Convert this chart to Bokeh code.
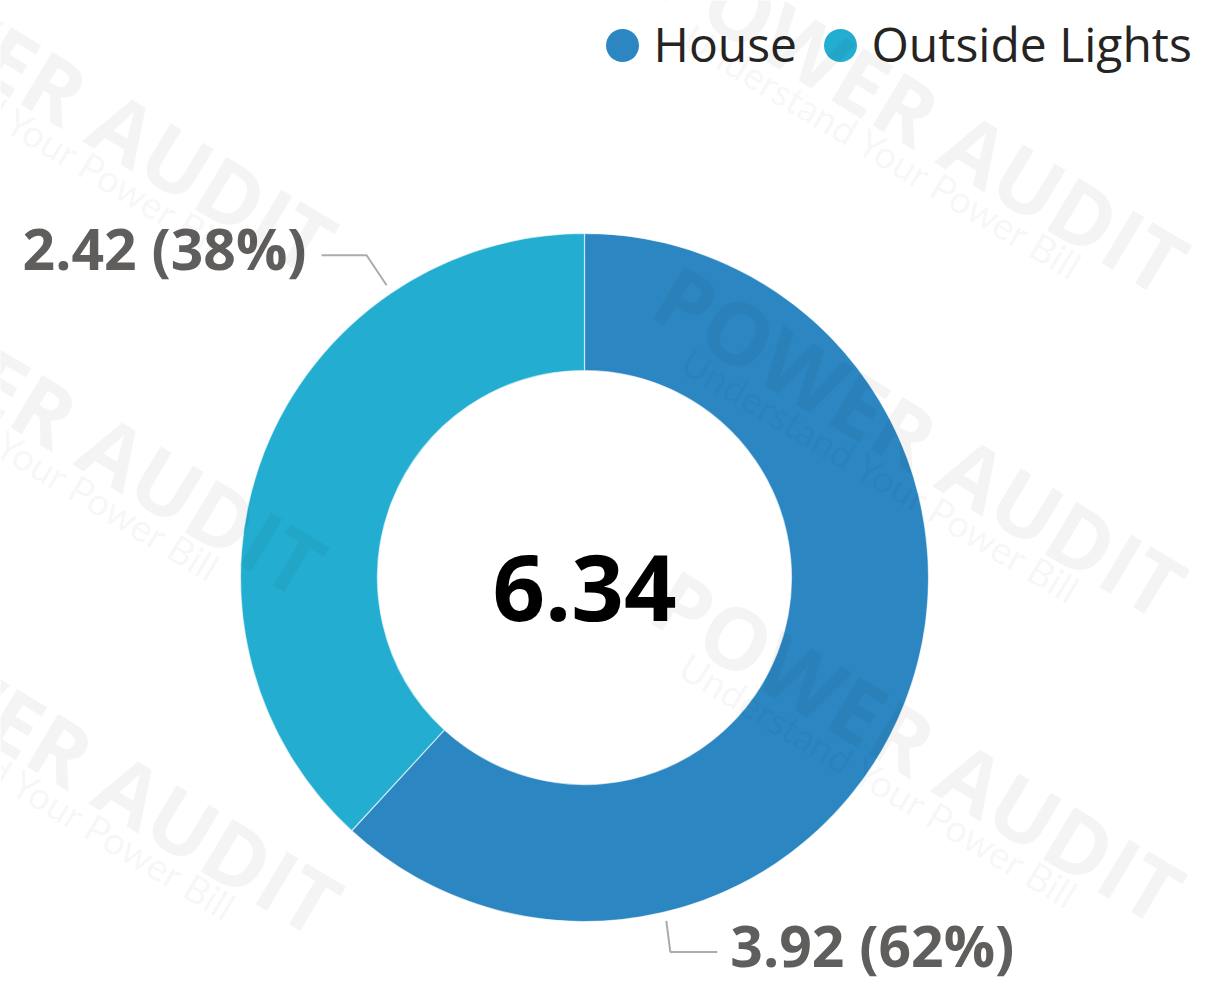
import math
from bokeh.plotting import figure
from bokeh.models import Range1d, ColumnDataSource
from bokeh.core.properties import value
from bokeh.embed import file_html
from bokeh.resources import INLINE

# ---------------- data ----------------
categories = ["House", "Outside Lights"]
values = [3.92, 2.42]
colors = ["#2C86C2", "#23AED1"]
watermark_title = "POWER AUDIT"
watermark_sub = "Understand Your Power Bill"

# ---------------- layout (page pixel frame, y flipped) ----------------
W, H = 1210, 986
def py(y):  # page y -> data y
    return H - y

CX, CY = 584, py(577)
R_OUT, R_IN = 344, 207

p = figure(width=W, height=H, x_range=Range1d(0, W), y_range=Range1d(0, H),
           output_backend="svg", toolbar_location=None, min_border=0,
           background_fill_color="white", border_fill_color="white")
p.axis.visible = False
p.grid.visible = False
p.outline_line_color = None

total = sum(values)
fracs = [v / total for v in values]

# House starts at 12 o'clock, going clockwise; next slice follows.
starts, ends = [], []
a = 90.0
for f in fracs:
    end = a
    start = a - 360.0 * f
    starts.append(math.radians(start))
    ends.append(math.radians(end))
    a = start
src = ColumnDataSource(dict(start=starts, end=ends, color=colors, cat=categories))
p.annular_wedge(x=CX, y=CY, inner_radius=R_IN, outer_radius=R_OUT, start_angle="start", end_angle="end",
                fill_color="color", line_color="white", line_width=1.2, line_alpha=0.6, source=src)

# ---------------- data labels with leader lines ----------------
label_layout = {
    "House": dict(ang=-76.6, elbow=(4, -31), run=47, side="right"),
    "Outside Lights": dict(ang=124.1, elbow=(-20, 30), run=-45, side="left"),
}
label_font = value("Open Sans")
BASE_SHIFT_57 = 25  # renderer baseline correction for 57px text
for cat, v, f in zip(categories, values, fracs):
    L = label_layout[cat]
    r = R_OUT + 9
    ax = CX + r * math.cos(math.radians(L["ang"]))
    ay = CY + r * math.sin(math.radians(L["ang"]))
    ex, ey = ax + L["elbow"][0], ay + L["elbow"][1]
    tx, ty = ex + L["run"], ey
    p.line([ax, ex, tx], [ay, ey, ty], line_color="#ABABAB", line_width=2)
    txt = f"{v:.2f} ({round(f * 100):d}%)"
    if L["side"] == "right":
        p.text(x=[tx + 13], y=[ty - 18 + BASE_SHIFT_57], text=[txt], text_align="left", text_baseline="alphabetic",
               text_font=label_font, text_font_style="bold", text_font_size="57px", text_color="#605E5C")
    else:
        p.text(x=[tx - 15], y=[ty - 18 + BASE_SHIFT_57], text=[txt], text_align="right", text_baseline="alphabetic",
               text_font=label_font, text_font_style="bold", text_font_size="57px", text_color="#605E5C")

# center total
p.text(x=[CX], y=[py(620 - 33)], text=[f"{total:.2f}"], text_align="center", text_baseline="alphabetic",
       text_font=value("Open Sans"), text_font_style="bold", text_font_size="92px", text_color="#000000")

# ---------------- legend ----------------
leg_x = [622, 840]
leg_y = py(45)
p.scatter(x=leg_x, y=[leg_y] * 2, size=33, marker="circle", fill_color=colors, line_color=None)
p.text(x=[x + 31 for x in leg_x], y=[py(63 - 20)] * 2, text=categories, text_align="left",
       text_baseline="alphabetic", text_font=value("Open Sans"), text_font_size="48px", text_color="#252423")

# ---------------- watermark ----------------
tiles = [(70, 95), (60, 418), (76, 757), (922, 116), (920, 440), (918, 745)]
ang = -31.0
d = (math.cos(math.radians(31)), math.sin(math.radians(31)))
n = (-d[1], d[0])
tx_ = [t[0] for t in tiles]
ty_ = [py(t[1]) for t in tiles]
p.text(x=tx_, y=ty_, text=[watermark_title] * len(tiles), angle=ang, angle_units="deg",
       text_align="center", text_baseline="middle", text_font=value("Open Sans"), text_font_style="bold",
       text_font_size="86px", text_color="#000000", text_alpha=0.045)
sx = [t[0] + 50 * n[0] - 15 * d[0] for t in tiles]
sy = [py(t[1] + 50 * n[1] - 15 * d[1]) for t in tiles]
p.text(x=sx, y=sy, text=[watermark_sub] * len(tiles), angle=ang, angle_units="deg",
       text_align="center", text_baseline="middle", text_font=value("Lato"),
       text_font_size="38px", text_color="#000000", text_alpha=0.055)

open("out.html", "w").write(file_html(p, INLINE))
